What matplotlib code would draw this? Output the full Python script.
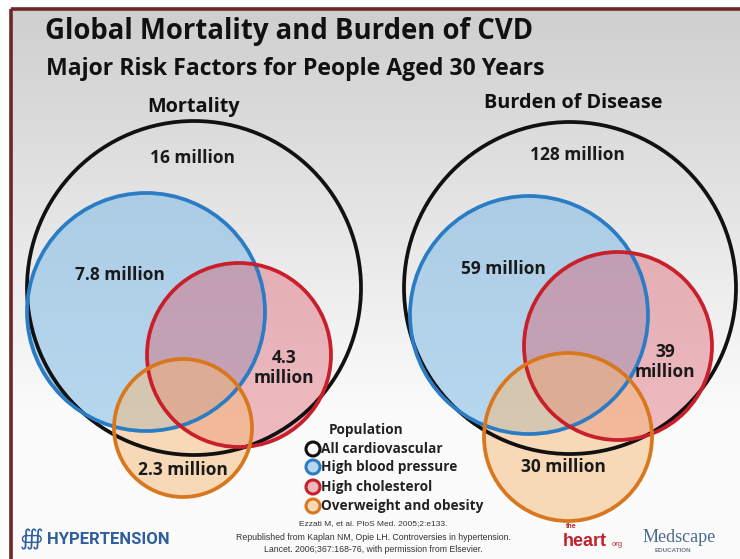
import numpy as np
import matplotlib
matplotlib.use("Agg")
import matplotlib.pyplot as plt
from matplotlib.patches import Circle, Rectangle

# ---- data ----
title = "Global Mortality and Burden of CVD"
subtitle = "Major Risk Factors for People Aged 30 Years"
panels = ["Mortality", "Burden of Disease"]
categories = ["All cardiovascular", "High blood pressure", "High cholesterol", "Overweight and obesity"]
mortality_labels = ["16 million", "7.8 million", "4.3\nmillion", "2.3 million"]
burden_labels = ["128 million", "59 million", "39\nmillion", "30 million"]

# ---- layout (pixel coords) ----
W, H = 740, 559
geom = {
    0: dict(title=(194, 107),
            circles=[(194, 288, 167), (146, 312, 119), (239, 355, 92), (183, 428, 69)],
            labels=[(193, 158), (120, 275), (284, 368), (183, 470)]),
    1: dict(title=(573, 103),
            circles=[(570, 288, 166), (529, 315, 119), (618, 346, 94), (568, 437, 84)],
            labels=[(577, 155), (503, 269), (665, 362), (563, 467)]),
}
edge_colors = ["#111111", "#2a7cc4", "#c81f2b", "#d9771e"]
face_colors = [None, (0.52, 0.74, 0.90, 0.58), (0.86, 0.36, 0.42, 0.42), (0.96, 0.72, 0.46, 0.50)]

FONT = "Open Sans"
plt.rcParams['font.family'] = [FONT, 'DejaVu Sans']

fig = plt.figure(figsize=(W / 100, H / 100), dpi=100)
ax = fig.add_axes([0, 0, 1, 1])
ax.set_xlim(0, W)
ax.set_ylim(H, 0)
ax.axis('off')

# background gradient
fig.patch.set_facecolor('white')
grad = np.linspace(0, 1, 256)[:, None]
g = np.clip(grad * 1.35, 0, 1)
top = np.array([0.81, 0.81, 0.81])
bot = np.array([0.985, 0.985, 0.985])
img = top[None, None, :] * (1 - g[..., None]) + bot[None, None, :] * g[..., None]
img = np.repeat(img, 2, axis=1)
ax.imshow(img, extent=(10, W, H, 8), aspect='auto', zorder=0, interpolation='bilinear')

# frame
ax.add_patch(Rectangle((10.5, 8.5), W, H, fill=False, edgecolor="#6e2626", lw=2.6, zorder=1))

# titles
ax.text(45, 32, title, fontsize=19.8, fontweight='bold', color='#111111', va='center', ha='left', zorder=5)
ax.text(46, 69, subtitle, fontsize=16.6, fontweight='bold', color='#111111', va='center', ha='left', zorder=5)

for p, name in enumerate(panels):
    gm = geom[p]
    ax.text(*gm['title'], name, fontsize=14.3, fontweight='bold', color='#111111',
            ha='center', va='center', zorder=5)
    labels = mortality_labels if p == 0 else burden_labels
    for i, (cx, cy, r) in enumerate(gm['circles']):
        if face_colors[i] is not None:
            ax.add_patch(Circle((cx, cy), r, facecolor=face_colors[i], edgecolor='none', zorder=2 + i * 0.1))
        ax.add_patch(Circle((cx, cy), r, facecolor='none', edgecolor=edge_colors[i], lw=2.7, zorder=3 + i * 0.1))
    for i, lab in enumerate(labels):
        ax.text(*gm['labels'][i], lab, fontsize=12.5, fontweight='bold', color='#1a1a1a',
                ha='center', va='center', linespacing=1.1, zorder=6)

# legend
ax.text(329, 430, "Population", fontsize=9.8, fontweight='bold', color='#222222', va='center', ha='left', zorder=6)
leg_y = [449, 467, 487, 506]
for i, cat in enumerate(categories):
    fc = face_colors[i] if face_colors[i] is not None else 'none'
    ax.add_patch(Circle((313, leg_y[i]), 7, facecolor=fc, edgecolor=edge_colors[i], lw=2.2, zorder=6))
    ax.text(321, leg_y[i], cat, fontsize=9.8, fontweight='bold', color='#222222', va='center', ha='left', zorder=6)

# footer
ax.text(20, 539, "\u2230", fontsize=16, color='#2f5e9e', ha='left', va='center', zorder=6, family='DejaVu Sans')
ax.text(47, 539, "HYPERTENSION", fontsize=12, fontweight='bold', color='#2f5e9e', ha='left', va='center',
        zorder=6, family='Roboto', fontstretch='condensed')
ax.text(373, 524, "Ezzati M, et al. PloS Med. 2005;2:e133.", fontsize=6, color='#333333', ha='center', va='center', zorder=6, family='Liberation Sans')
ax.text(373, 537, "Republished from Kaplan NM, Opie LH. Controversies in hypertension.", fontsize=6.3, color='#333333', ha='center', va='center', zorder=6, family='Liberation Sans')
ax.text(373, 549, "Lancet. 2006;367:168-76, with permission from Elsevier.", fontsize=6.3, color='#333333', ha='center', va='center', zorder=6, family='Liberation Sans')
ax.text(563, 541, "heart", fontsize=13, fontweight='bold', color='#c0202a', ha='left', va='center', zorder=6, family='Liberation Sans')
ax.text(566, 527, "the", fontsize=5, fontweight='bold', color='#c0202a', ha='left', va='center', zorder=6, family='Liberation Sans')
ax.text(612, 545, "org", fontsize=5.5, color='#c0202a', ha='left', va='center', zorder=6, family='Liberation Sans')
ax.text(643, 538, "Medscape", fontsize=13, color='#4a6a8e', ha='left', va='center', zorder=6, family='Liberation Serif')
ax.text(655, 551, "EDUCATION", fontsize=4.5, fontweight='bold', color='#6a7a8a', ha='left', va='center', zorder=6, family='Liberation Sans')

fig.savefig("out.png", dpi=100)
